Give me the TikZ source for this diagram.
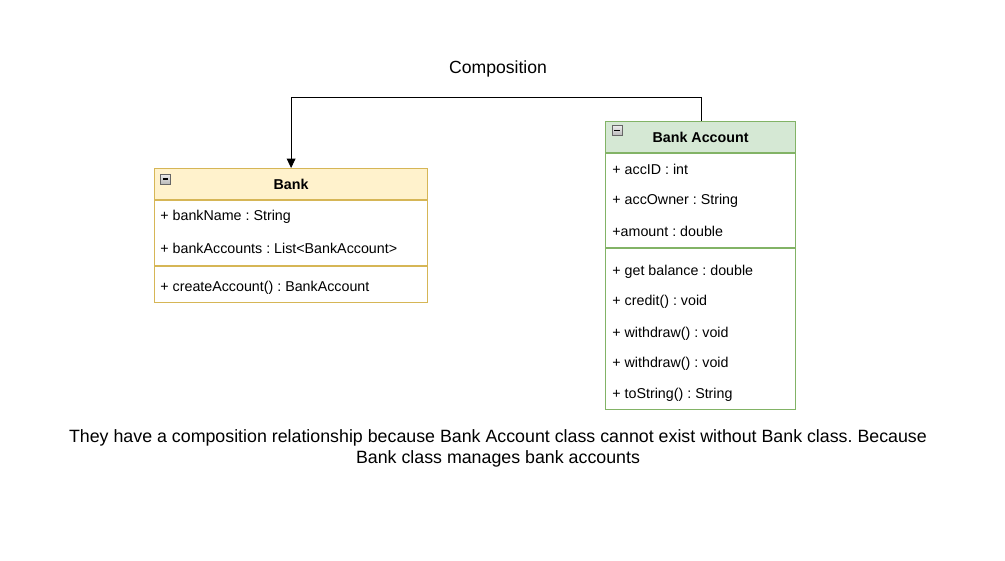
\documentclass[tikz,border=0pt]{standalone}
\usepackage{fontspec}
\setmainfont{Liberation Sans}
\usetikzlibrary{arrows.meta,positioning}
\frenchspacing

\definecolor{bankfill}{HTML}{FFF2CC}
\definecolor{bankline}{HTML}{D6B656}
\definecolor{accfill}{HTML}{D5E8D4}
\definecolor{accline}{HTML}{82B366}

\begin{document}
\begin{tikzpicture}[x=0.75pt,y=-0.75pt,>={Triangle[length=7pt,width=6.5pt]},semithick]
\tikzstyle{classhead}=[draw,anchor=north west,line width=0.9pt,inner sep=0pt,font=\fontsize{10.7}{12}\selectfont\bfseries]
\tikzstyle{classbody}=[draw,fill=white,anchor=north,line width=0.9pt,inner sep=0pt]
\tikzstyle{member}=[anchor=west,inner sep=0pt,font=\fontsize{10.7}{12}\selectfont]
\tikzstyle{collapse}=[draw=gray!80!black,top color=gray!15,bottom color=gray!55,minimum size=7.5pt,inner sep=0pt,line width=0.5pt,
  path picture={\draw[black,line width=0.8pt] ([xshift=1.8pt]path picture bounding box.west) -- ([xshift=-1.8pt]path picture bounding box.east);}]
\useasboundingbox (0,0) rectangle (1005,560);

% Bank class
\node[classhead,fill=bankfill,draw=bankline,minimum width=204.75pt,minimum height=23.25pt] (bankhead) at (154,168) {Bank};
\node[classbody,draw=bankline,minimum width=204.75pt,minimum height=76.5pt] (bankbody) at (bankhead.south) {};
\draw[bankline,line width=0.9pt] (154,266) -- (427,266);
\node[collapse] (bankicon) at (165.5,179) {};
\node[member] (bname) at (160,217) {+ bankName : String};
\node[member] (baccs) at (160,248) {+ bankAccounts : List<BankAccount>};
\node[member] (bcreate) at (160,288) {+ createAccount() : BankAccount};

% Bank Account class
\node[classhead,fill=accfill,draw=accline,minimum width=142.5pt,minimum height=23.25pt] (acchead) at (605,121) {Bank Account};
\node[classbody,draw=accline,minimum width=142.5pt,minimum height=192pt] (accbody) at (acchead.south) {};
\draw[accline,line width=0.9pt] (605,248) -- (795,248);
\node[collapse] (accicon) at (617,130.5) {};
\node[member] (aid) at (612,169) {+ accID : int};
\node[member] (aowner) at (612,201) {+ accOwner : String};
\node[member] (aamount) at (612,231) {+amount : double};
\node[member] (abal) at (612,272) {+ get balance : double};
\node[member] (acredit) at (612,302) {+ credit() : void};
\node[member] (awith) at (612,334) {+ withdraw() : void};
\node[member] (awith2) at (612,364) {+ withdraw() : void};
\node[member] (astr) at (612,395) {+ toString() : String};

% composition
\draw[->] ([xshift=0.75pt]acchead.north) -- ++(0,-24) -| (bankhead.north);
\node[font=\fontsize{13.2}{15.8}\selectfont] (complabel) at (498,69) {Composition};

\node[align=center,font=\fontsize{13.35}{15.8}\selectfont] (caption) at (498,448.5)
  {They have a composition relationship because Bank Account class cannot exist without Bank class. Because\\
   Bank class manages bank accounts};
\end{tikzpicture}
\end{document}
